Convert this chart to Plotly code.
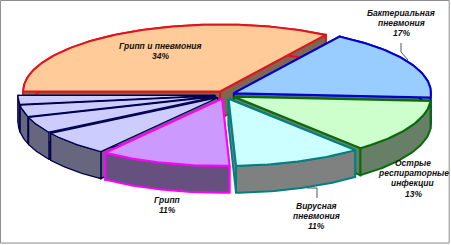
import math
import plotly.graph_objects as go

# Data
categories = ["Грипп и пневмония", "Бактериальная пневмония", "Острые респираторные инфекции",
              "Вирусная пневмония", "Грипп", "Прочие 1", "Прочие 2", "Прочие 3", "Прочие 4"]
values = [34, 17, 12.9, 10.5, 10.7, 6, 3.9, 2.8, 2.2]
fills = ["#FFCC99", "#99CCFF", "#CCFFCC", "#CCFFFF", "#CC99FF", "#CCCCFF", "#CCCCFF", "#CCCCFF", "#CCCCFF"]
sides = ["#7F6650", "#50667F", "#667F66", "#7F8080", "#66507F", "#66667F", "#66667F", "#66667F", "#66667F"]
edges = ["#E0141E", "#0000CC", "#0B6B0B", "#008080", "#FF00FF", "#000050", "#000050", "#000050", "#000050"]
widths = [2, 2, 2, 2, 2, 1.3, 1.3, 1.3, 1.3]
labels = [
    (["Грипп и пневмония", "34%"], 160, 46),
    (["Бактериальная", "пневмония", "17%"], 401, 13),
    (["Острые", "респираторные", "инфекции", "13%"], 413, 163),
    (["Вирусная", "пневмония", "11%"], 316, 206),
    (["Грипп", "11%"], 167, 200),
]

# Projection of the tilted pie on the chart plane
CX, CY, RX, RY, DEPTH, EX, EY = 225, 95, 197, 67, 27, 10, 4
START = 180.0

fig = go.Figure()


def poly(xs, ys, fill, line, width):
    fig.add_trace(go.Scatter(x=xs, y=ys, mode="lines", fill="toself", fillcolor=fill,
                             line=dict(color=line, width=width), hoverinfo="skip", showlegend=False))


total = sum(values)
slices = []
angle = START
for i, v in enumerate(values):
    sweep = v / total * 360
    a0, a1 = angle, angle - sweep
    slices.append((i, a0, a1))
    angle = a1

# back to front
slices.sort(key=lambda s: -math.sin(math.radians((s[1] + s[2]) / 2)))

for i, a0, a1 in slices:
    mid = math.radians((a0 + a1) / 2)
    ax = CX + EX * math.cos(mid)
    ay = CY - EY * math.sin(mid)
    n = max(4, int(abs(a0 - a1)))
    ts = [math.radians(a0 + (a1 - a0) * k / n) for k in range(n + 1)]
    px = [ax + RX * math.cos(t) for t in ts]
    py = [ay - RY * math.sin(t) for t in ts]
    # radial walls
    poly([ax, px[0], px[0], ax, ax], [ay, py[0], py[0] + DEPTH, ay + DEPTH, ay], sides[i], edges[i], widths[i])
    poly([ax, px[-1], px[-1], ax, ax], [ay, py[-1], py[-1] + DEPTH, ay + DEPTH, ay], sides[i], edges[i], widths[i])
    # outer wall
    poly(px + px[::-1] + [px[0]], py + [y + DEPTH for y in py[::-1]] + [py[0]], sides[i], edges[i], widths[i])
    # top
    poly([ax] + px + [ax], [ay] + py + [ay], fills[i], edges[i], widths[i])

# leader lines
for xs, ys in [([401, 401, 408], [43, 52, 60]), ([307, 317, 317], [188, 188, 198])]:
    fig.add_trace(go.Scatter(x=xs, y=ys, mode="lines", line=dict(color="#555555", width=1),
                             hoverinfo="skip", showlegend=False))

for lines, x, y in labels:
    for k, line in enumerate(lines):
        fig.add_annotation(x=x, y=y + k * 10.2, text="<b><i>%s</i></b>" % line, showarrow=False,
                           font=dict(family="Liberation Sans", size=8.5, color="#111111"),
                           xanchor="center", yanchor="middle")

fig.add_shape(type="rect", xref="paper", yref="paper", x0=0.001, x1=0.996, y0=0.008, y1=0.998,
              line=dict(color="#8C8C8C", width=1))
fig.update_xaxes(range=[0, 451], visible=False, fixedrange=True)
fig.update_yaxes(range=[245, 0], visible=False, fixedrange=True)
fig.update_layout(width=451, height=245, margin=dict(l=0, r=0, t=0, b=0),
                  paper_bgcolor="white", plot_bgcolor="white", showlegend=False)
fig.write_html("out.html", config={"displayModeBar": False},
               post_script="document.body.style.margin='0';document.documentElement.style.overflow='hidden';")
